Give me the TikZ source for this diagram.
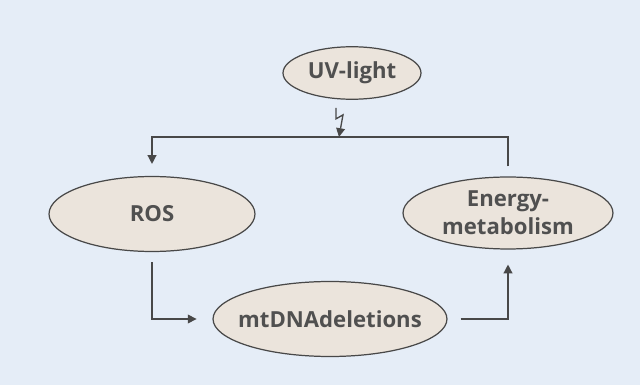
\documentclass[tikz,border=0pt]{standalone}
\usepackage{fontspec}
\setmainfont{Open Sans}
\usetikzlibrary{shapes.geometric,arrows.meta,positioning}
\definecolor{bgblue}{HTML}{E5EDF7}
\definecolor{cellfill}{HTML}{EBE4DC}
\definecolor{linegray}{HTML}{484848}
\definecolor{textgray}{HTML}{505050}

\begin{document}
\begin{tikzpicture}[
        x=0.02cm, y=-0.02cm,
        every node/.style={draw=linegray, fill=cellfill, ellipse, inner xsep=-30pt, inner ysep=0pt,
            line width=0.7pt, font=\bfseries\fontsize{12.6}{16}\selectfont, text=textgray, align=center},
        link/.style={draw=linegray, line width=0.75pt, -{Triangle[length=5pt,width=5pt]}}
    ]
    % background
    \fill[bgblue] (0,0) rectangle (640,385);
    \useasboundingbox (0,0) rectangle (640,385);

    % Nodes
    \node[minimum width=2.76cm, minimum height=1.05cm] (uv) at (352,73) {UV-light};
    \node[minimum width=4.12cm, minimum height=1.5cm] (ros) at (152,214) {ROS};
    \node[minimum width=4.68cm, minimum height=1.5cm] (mtdna) at (330,319) {mtDNAdeletions};
    \node[minimum width=4.2cm, minimum height=1.44cm] (energy) at (508,213) {Energy-\\metabolism};
    \coordinate (bolt) at (339,137);

    % Edges
    \draw[link, shorten <=5.7pt, shorten >=6.8pt] (energy.north) |- (bolt) -| (ros.north);
    \draw[link, shorten <=5.7pt, shorten >=9pt] (ros.south) |- (mtdna.west);
    \draw[link, shorten <=7.4pt, shorten >=8.5pt] (mtdna.east) -| (energy.south);
    \draw[link] (uv.south) ++(-16,8) -- ++(0,11) -- ++(7,-4) -- (bolt);
\end{tikzpicture}
\end{document}
